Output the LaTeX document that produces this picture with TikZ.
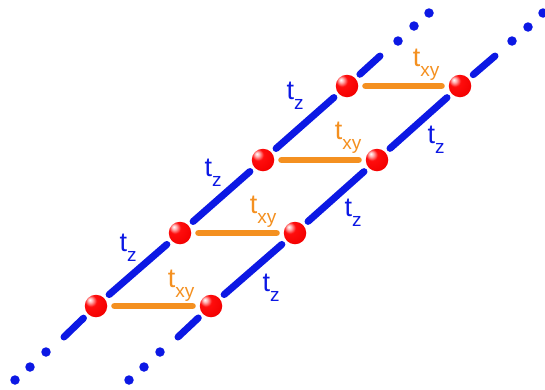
\documentclass[tikz,border=0pt]{standalone}
\usepackage{fontspec}
\setmainfont{Liberation Sans}
\definecolor{chainblue}{RGB}{12,24,228}
\definecolor{rungorange}{RGB}{244,144,32}
\pgfdeclareradialshading{redball}{\pgfpoint{-14bp}{14bp}}{%
  color(0bp)=(white); color(5bp)=(white!70!red); color(13bp)=(red!95!white);
  color(35bp)=(red!95!black); color(55bp)=(red!80!black); color(72bp)=(red!65!black)}
\newcommand{\hopping}[1]{t\raisebox{-10pt}{\fontsize{19}{19}\selectfont #1}}
\tikzset{
  site/.style={circle, minimum size=22.5pt, inner sep=0pt, shading=redball},
  chainline/.style={draw=chainblue, line width=7pt, line cap=round, shorten <=6pt, shorten >=6pt},
  endline/.style={draw=chainblue, line width=7pt, line cap=round, shorten <=6pt},
  rung/.style={draw=rungorange, line width=6.5pt, line cap=round, shorten <=7pt, shorten >=7pt},
  chaindot/.style={circle, fill=chainblue, minimum size=9.5pt, inner sep=0pt},
  zlab/.style={text=chainblue, font=\fontsize{27}{27}\selectfont, inner sep=0pt},
  xylab/.style={text=rungorange, font=\fontsize{27}{27}\selectfont, inner sep=0pt}
}
\begin{document}
\begin{tikzpicture}[x=1pt, y=-1pt]
\useasboundingbox (0,0) rectangle (545,389);
% sites
\node[site] (L1) at (96,306) {};
\node[site] (L2) at (180,233) {};
\node[site] (L3) at (263,160) {};
\node[site] (L4) at (347,86) {};
\node[site] (R1) at (211,306) {};
\node[site] (R2) at (295,233) {};
\node[site] (R3) at (377,160) {};
\node[site] (R4) at (460,86) {};
% chain end coordinates
\coordinate (LB) at (64,337);
\coordinate (RB) at (178,337);
\coordinate (LT) at (380,56);
\coordinate (RT) at (495,56);
% chains
\draw[chainline] (L1) -- (L2);
\draw[chainline] (L2) -- (L3);
\draw[chainline] (L3) -- (L4);
\draw[chainline] (R1) -- (R2);
\draw[chainline] (R2) -- (R3);
\draw[chainline] (R3) -- (R4);
\draw[endline] (L1) -- (LB);
\draw[endline] (R1) -- (RB);
\draw[endline] (L4) -- (LT);
\draw[endline] (R4) -- (RT);
% dots
\node[chaindot] (lb1) at (46,352) {};
\node[chaindot] (lb2) at (30,367) {};
\node[chaindot] (lb3) at (15,380) {};
\node[chaindot] (rb1) at (160,352) {};
\node[chaindot] (rb2) at (144,367) {};
\node[chaindot] (rb3) at (129,380) {};
\node[chaindot] (lt1) at (398,41) {};
\node[chaindot] (lt2) at (414,26) {};
\node[chaindot] (lt3) at (429,13) {};
\node[chaindot] (rt1) at (512,41) {};
\node[chaindot] (rt2) at (528,27) {};
\node[chaindot] (rt3) at (543,13) {};
% rungs
\draw[rung] (L1) -- (R1);
\draw[rung] (L2) -- (R2);
\draw[rung] (L3) -- (R3);
\draw[rung] (L4) -- (R4);
% labels
\node[xylab] (x1) at (181,286) {\hopping{xy}};
\node[xylab] (x2) at (263,212) {\hopping{xy}};
\node[xylab] (x3) at (348,138) {\hopping{xy}};
\node[xylab] (x4) at (426,65) {\hopping{xy}};
\node[zlab] (zl1) at (128,248) {\hopping{z}};
\node[zlab] (zl2) at (213,173) {\hopping{z}};
\node[zlab] (zl3) at (295,96) {\hopping{z}};
\node[zlab] (zr1) at (271,288) {\hopping{z}};
\node[zlab] (zr2) at (353,213) {\hopping{z}};
\node[zlab] (zr3) at (436,140) {\hopping{z}};
\end{tikzpicture}
\end{document}
